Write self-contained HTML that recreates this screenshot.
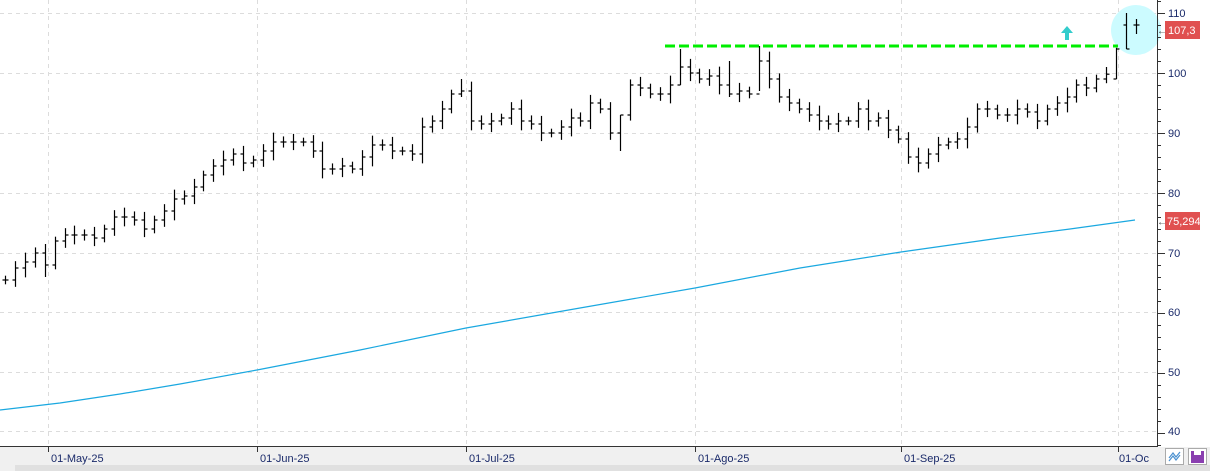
<!DOCTYPE html>
<html><head><meta charset="utf-8"><style>
html,body{margin:0;padding:0;background:#fff;}
svg{display:block;font-family:"Liberation Sans",sans-serif;}
</style></head><body>
<svg id="s" width="1210" height="471" xmlns="http://www.w3.org/2000/svg">
<rect x="0" y="0" width="1210" height="471" fill="#fff"/>
<rect x="0" y="447" width="1210" height="24" fill="#f0f0f0"/>
<rect x="15" y="465" width="1195" height="6" fill="#e0e0e0"/>
<g stroke="#dcdcdc" stroke-dasharray="4,4" stroke-width="1">
<line x1="0" y1="13.5" x2="1157" y2="13.5"/><line x1="0" y1="73.5" x2="1157" y2="73.5"/>
<line x1="0" y1="133.5" x2="1157" y2="133.5"/><line x1="0" y1="193.5" x2="1157" y2="193.5"/>
<line x1="0" y1="253.5" x2="1157" y2="253.5"/><line x1="0" y1="312.5" x2="1157" y2="312.5"/>
<line x1="0" y1="372.5" x2="1157" y2="372.5"/><line x1="0" y1="431.5" x2="1157" y2="431.5"/>
<line x1="48.5" y1="0" x2="48.5" y2="446"/><line x1="257.5" y1="0" x2="257.5" y2="446"/>
<line x1="466.5" y1="0" x2="466.5" y2="446"/><line x1="695.5" y1="0" x2="695.5" y2="446"/>
<line x1="901.5" y1="0" x2="901.5" y2="446"/><line x1="1118.5" y1="0" x2="1118.5" y2="446"/>
</g>
<circle cx="1136" cy="30" r="25" fill="#ccfbff"/>
<polygon points="1067,26 1061,33 1065,33 1065,40 1069,40 1069,33 1073,33" fill="#33cccc"/>
<polyline fill="none" stroke="#1aa8e0" stroke-width="1.2" points="0,410 60,403 120,394 180,384 257,370 360,350 466,328 580,308 695,288 800,268 901,252 1000,238 1070,229 1135,220"/>
<line x1="665" y1="46" x2="1118" y2="46" stroke="#00ee00" stroke-width="3" stroke-dasharray="10,4"/>
<g id="bars" stroke="#000" stroke-width="1.2" fill="none"></g>
<line x1="1157.5" y1="0" x2="1157.5" y2="447" stroke="#333"/>
<line x1="0" y1="446.5" x2="1157" y2="446.5" stroke="#333"/>
<g id="ticks" stroke="#333"></g>
<g fill="#1a2a6a" font-size="11">
<text x="1168" y="17">110</text><text x="1168" y="77">100</text><text x="1168" y="137">90</text>
<text x="1168" y="197">80</text><text x="1168" y="257">70</text><text x="1168" y="316">60</text>
<text x="1168" y="376">50</text><text x="1168" y="435">40</text>
</g>
<rect x="1165" y="21" width="35" height="18" fill="#e05050"/>
<text x="1168" y="34" fill="#fff" font-size="11">107,3</text>
<text x="1157" y="34" fill="#444" font-size="10">←</text>
<rect x="1165" y="212" width="35" height="18" fill="#e05050"/>
<text x="1167" y="225" fill="#fff" font-size="11">75,294</text>
<text x="1157" y="225" fill="#444" font-size="10">←</text>
<g stroke="#333"><line x1="48.5" y1="446" x2="48.5" y2="452"/><line x1="257.5" y1="446" x2="257.5" y2="452"/><line x1="466.5" y1="446" x2="466.5" y2="452"/><line x1="695.5" y1="446" x2="695.5" y2="452"/><line x1="901.5" y1="446" x2="901.5" y2="452"/><line x1="1118.5" y1="446" x2="1118.5" y2="452"/></g>
<g fill="#1a2a6a" font-size="11">
<text x="51" y="462">01-May-25</text><text x="260" y="462">01-Jun-25</text><text x="469" y="462">01-Jul-25</text>
<text x="698" y="462">01-Ago-25</text><text x="904" y="462">01-Sep-25</text><text x="1119" y="462">01-Oc</text>
</g>
<rect x="1165.5" y="448.5" width="18" height="16" fill="#fff" stroke="#aaa"/>
<polyline points="1169,458 1173,453 1176,457 1180,452" fill="none" stroke="#4a90d0" stroke-width="1.2"/>
<polyline points="1169,461 1173,456 1176,460 1180,455" fill="none" stroke="#4a90d0" stroke-width="1.2"/>
<rect x="1188.5" y="448.5" width="18" height="16" fill="#fff" stroke="#aaa"/>
<rect x="1191" y="451" width="13" height="12" fill="#8a3fb0"/>
<rect x="1194" y="451" width="7" height="4" fill="#fff"/>
</svg>
<script>
var P=[65.5,67.5,68.5,70,68,72,73,73,73,72.5,74,76,76,75.5,74,75.5,77,79,79.5,81,83,84.5,85.5,86.5,85,
85.5,87,88.5,88.5,88.5,88.5,87,84,84,84.5,84,86,88,88,87,87,86.5,91,92,94,96.5,
97,
92,91.5,92,92.5,94,92,91.5,90,90,91,92.5,92,95,94,90,93,98,97.5,96.5,96.5,98,101,
100,99,99.5,98,96.5,97,96.5,102,99,96,95,94,93,92,91.5,92,92,94,92,92.5,90.5,
89,86,85,86.5,88,88.5,89,91,94,94,93,93,94,93.5,92,94,95,96,98,97.5,99,100,
104,108.5,108];
var n=P.length,x0=5,x1=1136,g=document.getElementById('bars'),h='';
function y(p){return 73+(100-p)*6;}
for(var i=0;i<n;i++){
 var x=Math.round(x0+(x1-x0)*i/(n-1))+0.5,p=P[i],pr=i>0?P[i-1]:p;
 var r=1.2+((i*7)%5)*0.35;
 var o=pr,c=p,hi=Math.max(o,c)+r*0.6,lo=Math.min(o,c)-r*0.6;
 if(i==4){hi=71.5;lo=66;} if(i==62){hi=93;lo=87;} if(i==68){hi=104;lo=98;} if(i==73){hi=102;lo=96;} if(i==76){hi=104.5;lo=97;}
 if(i==46){hi=99;lo=96;}
 if(i==n-4){o=99;c=99.8;hi=101;lo=98.3;} if(i==n-3){o=99;c=104;hi=104.2;lo=99;} if(i==n-2){o=108;c=104;hi=110;lo=104;} if(i==n-1){o=108;c=108;hi=109;lo=106.5;}
 h+='<line x1="'+x+'" y1="'+y(hi)+'" x2="'+x+'" y2="'+y(lo)+'"/>';
 h+='<line x1="'+(x-3)+'" y1="'+y(o)+'" x2="'+x+'" y2="'+y(o)+'"/>';
 h+='<line x1="'+x+'" y1="'+y(c)+'" x2="'+(x+3)+'" y2="'+y(c)+'"/>';
}
g.innerHTML=h;
var t='';for(var v=38;v<=112;v+=2){var yy=Math.round(y(v))+0.5;t+='<line x1="1157" y1="'+yy+'" x2="'+(v%10==0?1165:1161)+'" y2="'+yy+'"/>';}
document.getElementById('ticks').innerHTML=t;
</script>
</body></html>
